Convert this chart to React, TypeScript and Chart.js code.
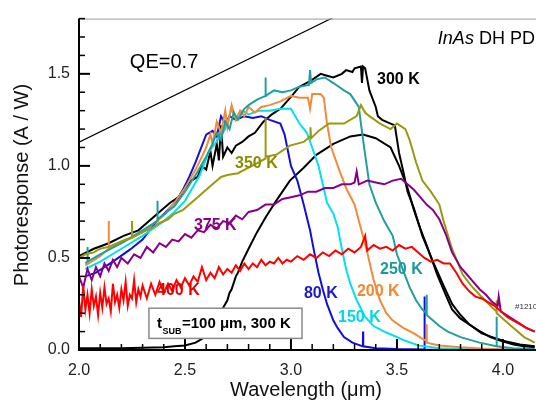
import React, { useEffect, useRef } from "react";
import { Chart, registerables } from "chart.js";
Chart.register(...registerables);

// axis ticks
const xTicks = [2.0, 2.5, 3.0, 3.5, 4.0];
const yTicks = [0.0, 0.5, 1.0, 1.5];

// QE = 0.7 reference line
const qeLine = [[2.0, 1.129], [3.2, 1.806]];

// 80 K
const k80 = [[2.03,0.4],[2.08,0.42],[2.16,0.48],[2.24,0.545],[2.3,0.6],[2.36,0.69],[2.41,0.75],[2.46,0.81],[2.49,0.87],[2.52,0.94],[2.55,1.02],[2.58,1.11],[2.6,1.17],[2.63,1.19],[2.65,1.16],[2.67,1.27],[2.69,1.23],[2.71,1.27],[2.74,1.25],[2.78,1.27],[2.82,1.26],[2.86,1.27],[2.9,1.25],[2.95,1.23],[2.97,1.17],[3.0,1.0],[3.03,0.92],[3.06,0.79],[3.09,0.65],[3.11,0.53],[3.13,0.42],[3.15,0.33],[3.17,0.25],[3.2,0.16],[3.22,0.12],[3.25,0.07],[3.29,0.04],[3.339,0.02],[3.34,0.1],[3.341,0.02],[3.4,0.01],[3.5,0.005],[3.629,0.003],[3.63,0.29],[3.631,0.003],[3.7,0],[4.15,0]];

// 150 K
const k150 = [[2.03,0.44],[2.1,0.48],[2.2,0.55],[2.3,0.62],[2.4,0.7],[2.45,0.75],[2.5,0.81],[2.57,0.95],[2.61,1.07],[2.66,1.15],[2.69,1.2],[2.72,1.31],[2.74,1.26],[2.77,1.3],[2.8,1.28],[2.85,1.3],[2.9,1.3],[2.95,1.31],[3.0,1.31],[3.04,1.23],[3.075,1.18],[3.1,1.1],[3.13,1.0],[3.15,0.9],[3.17,0.8],[3.2,0.74],[3.22,0.67],[3.24,0.55],[3.26,0.44],[3.28,0.36],[3.31,0.27],[3.35,0.18],[3.39,0.13],[3.44,0.1],[3.48,0.08],[3.54,0.05],[3.6,0.025],[3.7,0.01],[3.8,0.005],[4.0,0],[4.15,0]];

// 200 K
const k200 = [[2.03,0.46],[2.1,0.51],[2.139,0.55],[2.14,0.7],[2.141,0.55],[2.2,0.58],[2.3,0.64],[2.4,0.73],[2.45,0.8],[2.5,0.88],[2.55,0.98],[2.58,1.05],[2.6,1.1],[2.62,1.17],[2.63,1.12],[2.65,1.24],[2.67,1.18],[2.69,1.3],[2.7,1.21],[2.72,1.33],[2.74,1.25],[2.76,1.3],[2.78,1.27],[2.8,1.32],[2.83,1.29],[2.86,1.32],[2.9,1.33],[2.95,1.35],[3.0,1.38],[3.04,1.37],[3.08,1.37],[3.09,1.31],[3.1,1.39],[3.14,1.39],[3.155,1.37],[3.17,1.23],[3.19,1.1],[3.23,0.97],[3.26,0.88],[3.3,0.79],[3.33,0.66],[3.36,0.53],[3.39,0.38],[3.42,0.27],[3.45,0.2],[3.48,0.16],[3.53,0.12],[3.58,0.09],[3.62,0.06],[3.639,0.05],[3.64,0.14],[3.641,0.04],[3.7,0.025],[3.8,0.015],[3.9,0.008],[4.0,0.004],[4.15,0]];

// 250 K
const k250 = [[2.03,0.47],[2.039,0.48],[2.04,0.56],[2.041,0.48],[2.1,0.52],[2.2,0.58],[2.3,0.65],[2.369,0.7],[2.37,0.81],[2.371,0.71],[2.45,0.78],[2.5,0.86],[2.55,0.95],[2.6,1.05],[2.63,1.12],[2.65,1.18],[2.67,1.14],[2.69,1.24],[2.71,1.2],[2.73,1.29],[2.75,1.25],[2.78,1.31],[2.8,1.33],[2.84,1.36],[2.879,1.38],[2.88,1.48],[2.881,1.38],[2.92,1.41],[2.96,1.4],[3.0,1.41],[3.04,1.43],[3.085,1.44],[3.09,1.52],[3.095,1.45],[3.12,1.47],[3.16,1.48],[3.2,1.45],[3.25,1.41],[3.28,1.39],[3.32,1.32],[3.33,1.23],[3.35,1.06],[3.37,0.9],[3.4,0.8],[3.44,0.7],[3.48,0.62],[3.5,0.52],[3.53,0.43],[3.56,0.34],[3.59,0.27],[3.62,0.22],[3.639,0.2],[3.64,0.3],[3.641,0.19],[3.7,0.13],[3.74,0.1],[3.8,0.07],[3.89,0.04],[3.969,0.02],[3.97,0.18],[3.971,0.02],[4.05,0.01],[4.15,0.005]];

// 300 K
const k300 = [[2.0,0.51],[2.07,0.55],[2.14,0.58],[2.21,0.62],[2.28,0.65],[2.34,0.71],[2.39,0.76],[2.43,0.8],[2.47,0.83],[2.5,0.88],[2.53,0.92],[2.56,0.94],[2.58,1.0],[2.6,0.98],[2.62,1.08],[2.63,1.0],[2.65,1.12],[2.66,1.03],[2.67,1.22],[2.68,1.05],[2.7,1.1],[2.72,1.07],[2.74,1.11],[2.77,1.13],[2.8,1.16],[2.83,1.18],[2.87,1.24],[2.91,1.28],[2.95,1.31],[3.0,1.375],[3.04,1.43],[3.09,1.46],[3.14,1.5],[3.17,1.49],[3.2,1.48],[3.24,1.5],[3.26,1.52],[3.29,1.51],[3.3,1.53],[3.33,1.54],[3.335,1.45],[3.34,1.54],[3.35,1.53],[3.37,1.41],[3.4,1.32],[3.41,1.27],[3.43,1.25],[3.47,1.23],[3.49,1.22],[3.51,1.07],[3.53,0.97],[3.55,0.86],[3.58,0.77],[3.62,0.62],[3.67,0.48],[3.72,0.35],[3.76,0.25],[3.8,0.19],[3.84,0.14],[3.9,0.09],[3.95,0.07],[4.0,0.05],[4.08,0.03],[4.15,0.02]];

// 350 K
const k350 = [[2.0,0.5],[2.03,0.52],[2.07,0.53],[2.1,0.55],[2.14,0.56],[2.18,0.58],[2.22,0.6],[2.249,0.61],[2.25,0.7],[2.251,0.61],[2.3,0.64],[2.34,0.66],[2.38,0.69],[2.42,0.71],[2.45,0.74],[2.49,0.76],[2.52,0.79],[2.56,0.83],[2.6,0.87],[2.63,0.9],[2.67,0.94],[2.7,0.95],[2.75,0.96],[2.8,0.99],[2.85,1.02],[2.879,1.04],[2.88,1.26],[2.881,1.05],[2.93,1.06],[2.995,1.11],[3.06,1.13],[3.09,1.16],[3.092,1.21],[3.095,1.15],[3.13,1.19],[3.18,1.23],[3.25,1.23],[3.31,1.27],[3.33,1.33],[3.35,1.29],[3.37,1.27],[3.42,1.23],[3.47,1.2],[3.5,1.23],[3.54,1.2],[3.56,1.14],[3.59,1.02],[3.62,0.92],[3.66,0.86],[3.7,0.79],[3.72,0.7],[3.76,0.55],[3.81,0.41],[3.85,0.35],[3.89,0.3],[3.95,0.23],[3.969,0.21],[3.97,0.27],[3.971,0.2],[4.05,0.12],[4.1,0.07],[4.15,0.04]];

// 375 K
const k375 = [[2.0,0.4],[2.02,0.34],[2.04,0.44],[2.06,0.38],[2.08,0.45],[2.1,0.4],[2.12,0.47],[2.14,0.43],[2.16,0.49],[2.18,0.45],[2.2,0.5],[2.23,0.47],[2.26,0.52],[2.29,0.5],[2.32,0.56],[2.35,0.53],[2.38,0.58],[2.41,0.56],[2.44,0.6],[2.47,0.59],[2.5,0.63],[2.53,0.61],[2.56,0.65],[2.59,0.64],[2.62,0.68],[2.65,0.66],[2.68,0.7],[2.71,0.69],[2.74,0.73],[2.77,0.71],[2.8,0.75],[2.84,0.76],[2.88,0.79],[2.92,0.79],[2.96,0.82],[3.0,0.83],[3.04,0.84],[3.08,0.86],[3.12,0.86],[3.16,0.88],[3.2,0.88],[3.24,0.9],[3.28,0.9],[3.3,0.91],[3.31,0.97],[3.32,0.9],[3.36,0.92],[3.4,0.91],[3.44,0.9],[3.48,0.92],[3.52,0.93],[3.55,0.9],[3.58,0.87],[3.61,0.83],[3.64,0.79],[3.67,0.76],[3.7,0.71],[3.73,0.63],[3.76,0.53],[3.8,0.45],[3.83,0.41],[3.86,0.37],[3.89,0.33],[3.92,0.3],[3.95,0.26],[3.975,0.24],[3.98,0.29],[3.99,0.21],[4.03,0.18],[4.07,0.15],[4.11,0.12],[4.15,0.1]];

// 400 K
const k400 = [[2.0,0.27],[2.01,0.18],[2.02,0.35],[2.03,0.22],[2.04,0.3],[2.05,0.2],[2.06,0.33],[2.07,0.24],[2.08,0.29],[2.09,0.19],[2.1,0.31],[2.11,0.23],[2.12,0.34],[2.13,0.25],[2.14,0.28],[2.15,0.21],[2.16,0.36],[2.17,0.26],[2.18,0.3],[2.19,0.23],[2.2,0.33],[2.21,0.27],[2.22,0.37],[2.23,0.24],[2.24,0.3],[2.25,0.28],[2.26,0.38],[2.27,0.26],[2.28,0.33],[2.29,0.29],[2.3,0.35],[2.32,0.28],[2.34,0.36],[2.36,0.3],[2.38,0.37],[2.4,0.31],[2.42,0.36],[2.44,0.32],[2.46,0.38],[2.48,0.34],[2.5,0.39],[2.52,0.35],[2.54,0.4],[2.56,0.37],[2.58,0.45],[2.6,0.38],[2.62,0.42],[2.64,0.39],[2.66,0.45],[2.68,0.41],[2.7,0.44],[2.72,0.42],[2.74,0.46],[2.76,0.43],[2.78,0.47],[2.8,0.44],[2.82,0.47],[2.84,0.45],[2.86,0.49],[2.88,0.46],[2.9,0.48],[2.92,0.47],[2.94,0.5],[2.96,0.47],[2.98,0.49],[3.0,0.48],[3.03,0.51],[3.06,0.49],[3.09,0.52],[3.12,0.5],[3.15,0.53],[3.18,0.51],[3.21,0.54],[3.24,0.52],[3.27,0.55],[3.3,0.53],[3.33,0.56],[3.35,0.62],[3.36,0.54],[3.39,0.57],[3.42,0.55],[3.45,0.56],[3.48,0.54],[3.51,0.57],[3.54,0.55],[3.57,0.56],[3.6,0.53],[3.63,0.5],[3.66,0.48],[3.69,0.49],[3.72,0.47],[3.75,0.47],[3.78,0.42],[3.81,0.36],[3.84,0.32],[3.87,0.29],[3.9,0.28],[3.93,0.26],[3.96,0.24],[3.99,0.21],[4.02,0.18],[4.05,0.16],[4.08,0.14],[4.11,0.12],[4.15,0.1]];

// t_SUB = 100 um, 300 K
const kSub = [[2.0,0.01],[2.1,0.01],[2.2,0.01],[2.3,0.012],[2.4,0.015],[2.45,0.02],[2.5,0.025],[2.55,0.04],[2.58,0.06],[2.6,0.08],[2.62,0.12],[2.65,0.17],[2.68,0.23],[2.7,0.27],[2.71,0.31],[2.72,0.33],[2.74,0.4],[2.75,0.42],[2.77,0.48],[2.8,0.55],[2.84,0.64],[2.88,0.72],[2.93,0.81],[2.995,0.92],[3.06,0.99],[3.12,1.06],[3.2,1.12],[3.28,1.16],[3.34,1.17],[3.4,1.15],[3.47,1.1],[3.51,1.0],[3.55,0.88],[3.58,0.76],[3.61,0.66],[3.64,0.57],[3.69,0.41],[3.73,0.3],[3.76,0.22],[3.8,0.17],[3.88,0.11],[3.94,0.07],[3.99,0.05],[4.05,0.03],[4.1,0.02],[4.15,0.015]];

// curve labels (text, wavelength, response, colour)
const curveLabels = [
  ["300 K", 3.406, 1.466, "#000000"],
  ["350 K", 2.736, 1.011, "#8c8c00"],
  ["375 K", 2.542, 0.677, "#880088"],
  ["400 K", 2.368, 0.323, "#e60000"],
  ["80 K", 3.061, 0.307, "#1a1acc"],
  ["150 K", 3.222, 0.175, "#00d8e8"],
  ["200 K", 3.311, 0.317, "#f08a30"],
  ["250 K", 3.42, 0.439, "#1a9a9a"],
];

const FONT = "'Liberation Sans', Arial, sans-serif";

const toXY = (arr) => arr.map(([x, y]) => ({ x, y }));

const decor = {
  id: "decor",
  afterDatasetsDraw(chart) {
    const { ctx, chartArea: a, scales } = chart;
    const x = scales.x, y = scales.y;
    ctx.save();
    // top frame line
    ctx.strokeStyle = "#9a9a9a";
    ctx.lineWidth = 1;
    ctx.beginPath();
    ctx.moveTo(a.left, a.top + 0.5);
    ctx.lineTo(a.right, a.top + 0.5);
    ctx.stroke();
    // axes
    ctx.strokeStyle = "#000";
    ctx.lineWidth = 2;
    ctx.beginPath();
    ctx.moveTo(a.left, a.top);
    ctx.lineTo(a.left, a.bottom);
    ctx.lineTo(a.right, a.bottom);
    ctx.stroke();
    // inner ticks
    for (let i = 1; i <= 18; i++) {
      const p = y.getPixelForValue(i / 10);
      const len = i % 5 === 0 ? 11 : 6;
      ctx.lineWidth = i % 5 === 0 ? 2 : 1.5;
      ctx.beginPath();
      ctx.moveTo(a.left, p);
      ctx.lineTo(a.left + len, p);
      ctx.stroke();
    }
    for (let i = 21; i <= 41; i++) {
      const p = x.getPixelForValue(i / 10);
      const len = i % 5 === 0 ? 11 : 6;
      ctx.lineWidth = i % 5 === 0 ? 2 : 1.5;
      ctx.beginPath();
      ctx.moveTo(p, a.bottom);
      ctx.lineTo(p, a.bottom - len);
      ctx.stroke();
    }
    // axis titles
    ctx.fillStyle = "#111";
    ctx.font = `20px ${FONT}`;
    ctx.textAlign = "center";
    ctx.textBaseline = "middle";
    ctx.fillText("Wavelength (\u03bcm)", 306, 390);
    ctx.save();
    ctx.translate(22, 185);
    ctx.rotate(-Math.PI / 2);
    ctx.fillText("Photoresponse (A / W)", 0, 0);
    ctx.restore();

    // QE label
    ctx.textAlign = "left";
    ctx.fillStyle = "#000";
    ctx.font = `20px ${FONT}`;
    ctx.fillText("QE=0.7", x.getPixelForValue(2.24), y.getPixelForValue(1.56));

    // InAs DH PD
    const tx = x.getPixelForValue(3.693), ty = y.getPixelForValue(1.688);
    ctx.font = `italic 18px ${FONT}`;
    ctx.fillText("InAs", tx, ty);
    const w1 = ctx.measureText("InAs ").width;
    ctx.font = `18px ${FONT}`;
    ctx.fillText("DH PD", tx + w1, ty);

    // curve labels
    ctx.font = `bold 16px ${FONT}`;
    for (const [t, lx, ly, c] of curveLabels) {
      ctx.fillStyle = c;
      ctx.fillText(t, x.getPixelForValue(lx), y.getPixelForValue(ly));
    }

    // sample id
    ctx.fillStyle = "#333";
    ctx.font = `8px ${FONT}`;
    ctx.fillText("#1210", x.getPixelForValue(4.057), y.getPixelForValue(0.233));

    // t_SUB box
    const bx0 = x.getPixelForValue(2.33), bx1 = x.getPixelForValue(3.052);
    const by0 = y.getPixelForValue(0.227), by1 = y.getPixelForValue(0.063);
    ctx.fillStyle = "#fff";
    ctx.fillRect(bx0, by0, bx1 - bx0, by1 - by0);
    ctx.strokeStyle = "#8a8a8a";
    ctx.lineWidth = 1.5;
    ctx.strokeRect(bx0, by0, bx1 - bx0, by1 - by0);
    ctx.fillStyle = "#000";
    ctx.textBaseline = "alphabetic";
    let cx = bx0 + 8;
    const base = by0 + 20;
    ctx.font = `bold 15px ${FONT}`;
    ctx.fillText("t", cx, base);
    cx += ctx.measureText("t").width + 0.5;
    ctx.font = `bold 9px ${FONT}`;
    ctx.fillText("SUB", cx, base + 6);
    cx += ctx.measureText("SUB").width + 0.5;
    ctx.font = `bold 15px ${FONT}`;
    ctx.fillText("=100 \u03bcm, 300 K", cx, base);
    ctx.restore();
  },
};

export default function App() {
  const ref = useRef(null);
  useEffect(() => {
    document.body.style.margin = "0";
    const mk = (data, color, width = 2) => ({
      data: toXY(data),
      borderColor: color,
      backgroundColor: color,
      borderWidth: width,
      pointRadius: 0,
      showLine: true,
      tension: 0,
    });
    const chart = new Chart(ref.current, {
      type: "scatter",
      data: {
        datasets: [
          mk(qeLine, "#000", 1.2),
          mk(k400, "#ff0000", 2),
          mk(k375, "#880088", 2),
          mk(k350, "#9a9a10", 2),
          mk(k250, "#1fa0a0", 2),
          mk(k200, "#f28a3a", 2),
          mk(k150, "#00e0ee", 2),
          mk(k80, "#1010d8", 2),
          mk(k300, "#000000", 2),
          mk(kSub, "#000000", 2),
        ],
      },
      options: {
        animation: false,
        responsive: false,
        devicePixelRatio: 1,
        layout: { padding: { top: 10, left: 0, right: 0, bottom: 0 } },
        plugins: { legend: { display: false }, tooltip: { enabled: false } },
        scales: {
          x: {
            type: "linear",
            min: 2.0,
            max: 4.156,
            grid: { display: false, drawTicks: false },
            border: { display: false },
            afterBuildTicks: (s) => { s.ticks = xTicks.map((v) => ({ value: v })); },
            afterFit: (s) => { s.height = 55; s.paddingLeft = 0; s.paddingRight = 0; },
            ticks: {
              padding: 11,
              color: "#222",
              font: { family: FONT, size: 16 },
              maxRotation: 0,
              autoSkip: false,
              callback: (v) => Number(v).toFixed(1),
            },
          },
          y: {
            type: "linear",
            min: 0,
            max: 1.8,
            grid: { display: false, drawTicks: false },
            border: { display: false },
            afterBuildTicks: (s) => { s.ticks = yTicks.map((v) => ({ value: v })); },
            afterFit: (s) => { s.width = 79; },
            ticks: {
              padding: 9,
              color: "#222",
              font: { family: FONT, size: 16 },
              callback: (v) => Number(v).toFixed(1),
            },
          },
        },
      },
      plugins: [decor],
    });
    return () => chart.destroy();
  }, []);
  return <canvas ref={ref} width={536} height={405} style={{ display: "block", width: 536, height: 405 }} />;
}
